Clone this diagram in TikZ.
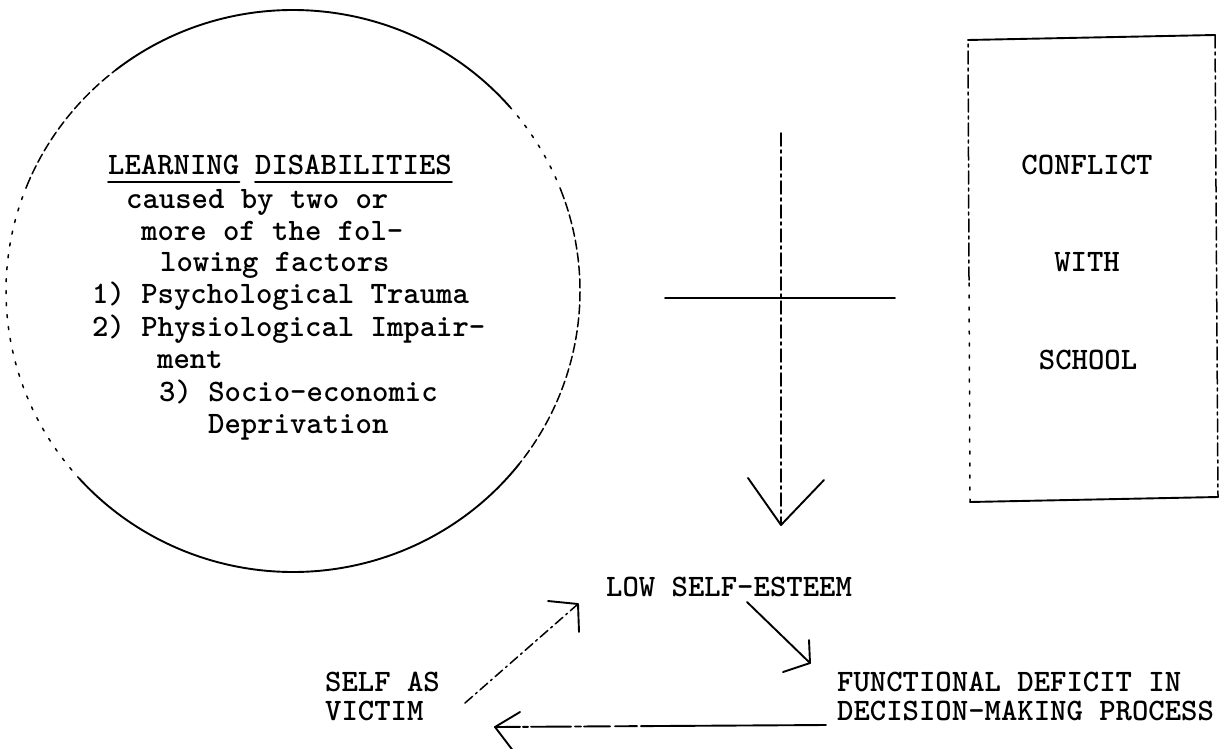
\documentclass[tikz,border=0pt]{standalone}
\begin{document}
\begin{tikzpicture}[x=1pt,y=-1pt,
  tw/.style={font={\ttfamily\bfseries\fontsize{31.2}{36}\selectfont}, inner sep=0pt, anchor=base west},
  twc/.style={tw, anchor=base},
  ink/.style={line width=1.9pt, line cap=round, line join=round},
  fine/.style={line width=1.5pt, line cap=round},
  sparse/.style={fine, dash pattern=on 3pt off 9pt},
  dashy/.style={fine, dash pattern=on 9pt off 4pt},
  dashdot/.style={fine, dash pattern=on 13pt off 4pt on 3pt off 4pt},
  rim/.style={x radius=287, y radius=281},
]
% page
\fill[white] (0,0) rectangle (1220,749);
\useasboundingbox (0,0) rectangle (1220,749);

% ---- circle: learning disabilities ----
\coordinate (cc) at (293,291);
\draw[ink]    (cc) ++(-128:287 and 281) arc[rim, start angle=-128, end angle=-41];
\draw[sparse] (cc) ++(-41:287 and 281)  arc[rim, start angle=-41,  end angle=-21];
\draw[dashy]  (cc) ++(-21:287 and 281)  arc[rim, start angle=-21,  end angle=38];
\draw[ink]    (cc) ++(38:287 and 281)   arc[rim, start angle=38,   end angle=138];
\draw[sparse] (cc) ++(138:287 and 281)  arc[rim, start angle=138,  end angle=202];
\draw[dashy]  (cc) ++(202:287 and 281)  arc[rim, start angle=202,  end angle=232];

\node[tw] (ldA) at (108,174) {LEARNING};
\node[tw] (ldB) at (255,174) {DISABILITIES};
\draw[ink] ([yshift=-8pt]ldA.base west) -- ([yshift=-8pt]ldA.base east);
\draw[ink] ([yshift=-8pt]ldB.base west) -- ([yshift=-8pt]ldB.base east);
\node[tw] (l1) at (126,208) {caused by two or};
\node[tw] (l2) at (141,240) {more of the fol-};
\node[tw] (l3) at (160,271) {lowing factors};
\node[tw] (l4) at (92,303)  {1) Psychological Trauma};
\node[tw] (l5) at (92,336)  {2) Physiological Impair-};
\node[tw] (l6) at (157,368) {ment};
\node[tw] (l7) at (159,401) {3) Socio-economic};
\node[tw] (l8) at (208,433) {Deprivation};

% ---- box: conflict with school ----
\coordinate (bTL) at (968,40);
\coordinate (bTR) at (1215,35);
\coordinate (bBR) at (1218,497);
\coordinate (bBL) at (970,502);
\coordinate (bML) at (969,280);
\draw[ink] (bTL) -- (bTR);
\draw[dashdot] (bTR) -- (bBR);
\draw[ink] (bBR) -- (bBL);
\draw[sparse] (bBL) -- (bML);
\draw[dashdot] (bML) -- (bTL);
\node[twc] (conflict) at (1087,174) {CONFLICT};
\node[twc] (with)     at (1087,271) {WITH};
\node[twc] (school)   at (1088,369) {SCHOOL};

% ---- blocked downward arrow ----
\coordinate (vtop) at (781,133);
\coordinate (vtip) at (781,525);
\coordinate (hl) at (665,298);
\coordinate (hr) at (895,298);
\draw[dashdot] (vtop) -- (vtip);
\draw[ink] ([shift={(-33,-47)}]vtip) -- (vtip) -- ([shift={(43,-45)}]vtip);
\draw[ink] (hl) -- (hr);

% ---- cycle ----
\node[tw] (low) at (606,596) {LOW SELF-ESTEEM};
\node[tw] (self1) at (325,691) {SELF AS};
\node[tw] (self2) at (325,720) {VICTIM};
\node[tw] (fd1) at (837,691) {FUNCTIONAL DEFICIT IN};
\node[tw] (fd2) at (837,720) {DECISION-MAKING PROCESS};

% low self-esteem -> functional deficit
\coordinate (aT) at (747,602);
\coordinate (aH) at (810,663);
\draw[ink] (aT) -- (aH);
\draw[ink] ([shift={(-1,-23)}]aH) -- (aH) -- ([shift={(-27,9)}]aH);

% functional deficit -> self as victim
\coordinate (cT) at (826,725);
\coordinate (cH) at (495,727);
\draw[ink, dash pattern=on 185pt off 4pt on 22pt off 5pt on 26pt off 3pt on 6pt off 4pt on 40pt off 3pt on 5pt off 3pt on 60pt off 1pt] (cT) -- (cH);
\draw[ink] ([shift={(25,-15)}]cH) -- (cH) -- ([shift={(19,25)}]cH);

% self as victim -> low self-esteem
\coordinate (bT) at (465,703);
\coordinate (bH) at (578,604);
\draw[fine, dash pattern=on 10pt off 4pt on 2pt off 4pt] (bT) -- (bH);
\draw[ink] ([shift={(-30,-3)}]bH) -- (bH) -- ([shift={(1,28)}]bH);
\end{tikzpicture}
\end{document}
